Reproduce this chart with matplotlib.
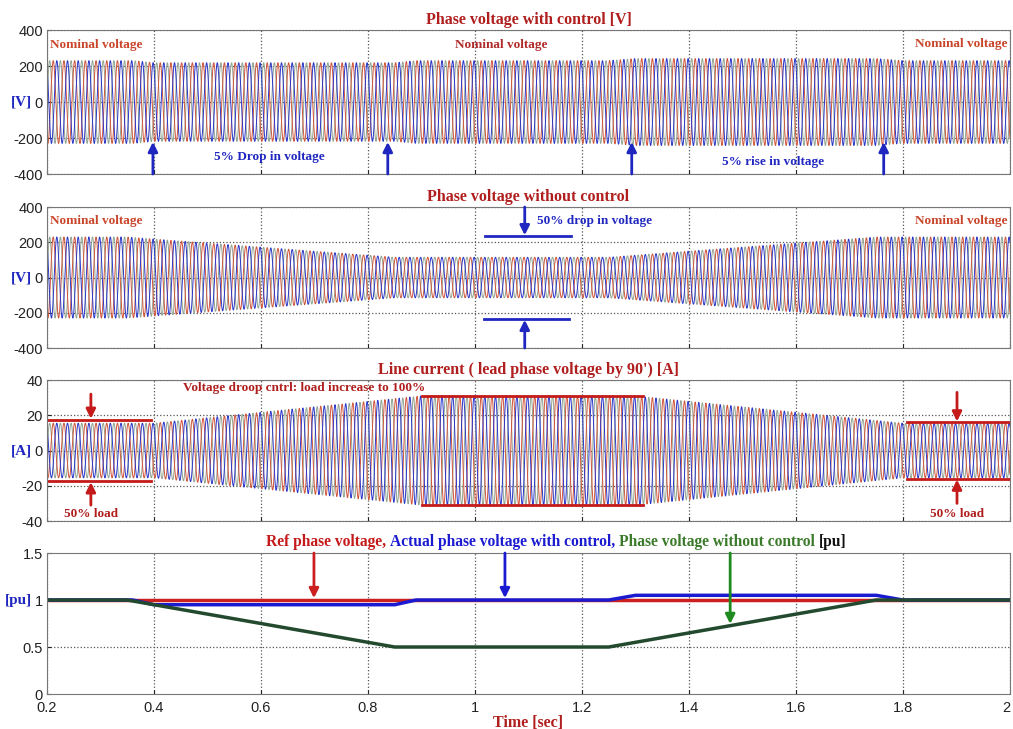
import numpy as np
import matplotlib.pyplot as plt

plt.rcParams['axes.unicode_minus'] = False
plt.rcParams['font.family'] = ['Liberation Sans', 'DejaVu Sans']

# envelope breakpoints (per-unit)
t_ref = [0.2, 2.0]
pu_ref = [1.0, 1.0]
t_ctrl = [0.2, 0.36, 0.40, 0.85, 0.89, 1.25, 1.30, 1.75, 1.80, 2.0]
pu_ctrl = [1.0, 1.0, 0.95, 0.95, 1.0, 1.0, 1.05, 1.05, 1.0, 1.0]
t_noctrl = [0.2, 0.35, 0.85, 1.25, 1.75, 2.0]
pu_noctrl = [1.0, 1.0, 0.5, 0.5, 1.0, 1.0]
# line current envelope [A]
t_cur = [0.2, 0.4, 0.9, 1.3, 1.8, 2.0]
amp_cur = [15.5, 15.5, 31.0, 31.0, 15.5, 15.5]

v_peak = 230.0
freq = 50.0
xticks = [0.2, 0.4, 0.6, 0.8, 1.0, 1.2, 1.4, 1.6, 1.8, 2.0]
xticklabels = ['0.2', '0.4', '0.6', '0.8', '1', '1.2', '1.4', '1.6', '1.8', '2']

phase_colors = ['#93a593', '#d0553a', '#2b37c8']
serif = 'Liberation Serif'
dark_red = '#b01e1e'
blue = '#2027c0'

t = np.linspace(0.2, 2.0, 18001)


def three_phase(ax, env):
    for k, c in enumerate(phase_colors):
        ax.plot(t, env * np.sin(2 * np.pi * freq * t - 2 * np.pi * k / 3), color=c, lw=0.7)


def style(ax, ylim, yticks, ylab, ylab_y=0.5, bottom=False):
    ax.set_xlim(0.2, 2.0)
    ax.set_ylim(*ylim)
    ax.set_xticks(xticks)
    ax.set_yticks(yticks)
    ax.grid(True, linestyle=':', color='#555555', lw=0.9)
    ax.tick_params(direction='in', length=3, labelsize=10.5, colors='#222222')
    ax.tick_params(axis='x', pad=5)
    ax.tick_params(axis='y', pad=3)
    for s in ax.spines.values():
        s.set_color('#777777')
    if bottom:
        ax.set_xticklabels(xticklabels)
        ax.get_xticklabels()[-1].set_ha('right')
    else:
        ax.set_xticklabels([])
    ax.text(-0.016, ylab_y, ylab, transform=ax.transAxes, ha='right', va='center',
            color=blue, fontsize=11, fontweight='bold', family=serif)


def arrow(ax, x, y_tail, y_tip, color):
    ax.annotate('', xy=(x, y_tip), xytext=(x, y_tail),
                arrowprops=dict(arrowstyle='-|>', color=color, lw=2, mutation_scale=14,
                                shrinkA=0, shrinkB=0))


def note(ax, x, y, s, color, ha='left'):
    ax.text(x, y, s, color=color, fontsize=9.5, fontweight='bold', family=serif,
            ha=ha, va='center')


fig = plt.figure(figsize=(10.13, 7.29), dpi=100)
L, W = 0.0464, 0.9506
ax1 = fig.add_axes([L, 0.7613, W, 0.1975])
ax2 = fig.add_axes([L, 0.5226, W, 0.1934])
ax3 = fig.add_axes([L, 0.2853, W, 0.1934])
ax4 = fig.add_axes([L, 0.0480, W, 0.1934])

# Panel 1 - with control
three_phase(ax1, v_peak * np.interp(t, t_ctrl, pu_ctrl))
style(ax1, (-400, 400), [-400, -200, 0, 200, 400], '[V]')
ax1.set_title('Phase voltage with control [V]', color=dark_red, fontsize=11.5,
              fontweight='bold', family=serif, pad=4)
note(ax1, 0.205, 318, 'Nominal voltage', '#c8452a')
note(ax1, 1.05, 318, 'Nominal voltage', '#b02a2a', ha='center')
note(ax1, 1.995, 325, 'Nominal voltage', '#c8452a', ha='right')
note(ax1, 0.512, -305, '5% Drop in voltage', blue)
note(ax1, 1.462, -335, '5% rise in voltage', blue)
for x in [0.398, 0.837, 1.293, 1.764]:
    arrow(ax1, x, -400, -222, blue)

# Panel 2 - without control
three_phase(ax2, v_peak * np.interp(t, t_noctrl, pu_noctrl))
style(ax2, (-400, 400), [-400, -200, 0, 200, 400], '[V]')
ax2.set_title('Phase voltage without control', color=dark_red, fontsize=11.5,
              fontweight='bold', family=serif, pad=4)
note(ax2, 0.205, 318, 'Nominal voltage', '#c8452a')
note(ax2, 1.995, 318, 'Nominal voltage', '#c8452a', ha='right')
note(ax2, 1.115, 318, '50% drop in voltage', blue)
ax2.plot([1.019, 1.179], [235, 235], color=blue, lw=2)
ax2.plot([1.016, 1.176], [-235, -235], color=blue, lw=2)
arrow(ax2, 1.093, 400, 240, blue)
arrow(ax2, 1.093, -400, -240, blue)

# Panel 3 - line current
three_phase(ax3, np.interp(t, t_cur, amp_cur))
style(ax3, (-40, 40), [-40, -20, 0, 20, 40], '[A]')
ax3.set_title("Line current ( lead phase voltage by 90') [A]", color=dark_red,
              fontsize=11.5, fontweight='bold', family=serif, pad=4)
red_line = '#c41a1a'
for x0, x1, y in [(0.2, 0.394, 17.5), (0.901, 1.314, 31.0), (1.807, 2.0, 16.0)]:
    ax3.plot([x0, x1], [y, y], color=red_line, lw=2)
    ax3.plot([x0, x1], [-y, -y], color=red_line, lw=2)
arrow(ax3, 0.282, 32, 18, red_line)
arrow(ax3, 0.282, -31, -18, red_line)
arrow(ax3, 1.901, 33, 16.5, red_line)
arrow(ax3, 1.901, -30, -16.5, red_line)
note(ax3, 0.454, 35.5, 'Voltage droop cntrl: load increase to 100%', dark_red)
note(ax3, 0.282, -36, '50% load', dark_red, ha='center')
note(ax3, 1.901, -36, '50% load', dark_red, ha='center')

# Panel 4 - per-unit envelopes
ax4.plot(t_ref, pu_ref, color='#cc2020', lw=2.5)
ax4.plot(t_ctrl, pu_ctrl, color='#1a1ad0', lw=2.5)
ax4.plot(t_noctrl, pu_noctrl, color='#234a2e', lw=2.5)
style(ax4, (0, 1.5), [0, 0.5, 1, 1.5], '[pu]', ylab_y=1 / 1.5, bottom=True)
ax4.set_yticklabels(['0', '0.5', '1', '1.5'])
ax4.grid(False)
ax4.grid(True, axis='x', linestyle=':', color='#555555', lw=0.9)
for y in [0.5, 1.0]:
    ax4.axhline(y, linestyle=':', color='#555555', lw=0.9, zorder=0)
arrow(ax4, 0.699, 1.5, 1.02, '#cc2020')
arrow(ax4, 1.056, 1.5, 1.02, '#1a1ad0')
arrow(ax4, 1.477, 1.5, 0.745, '#1f8a1f')
ax4.set_xlabel('Time [sec]', color=dark_red, fontsize=11.5, fontweight='bold',
               family=serif, labelpad=0)

# multi-coloured title of the bottom panel
pieces = [('Ref phase voltage, ', '#c41a1a'),
          ('Actual phase voltage with control, ', '#1a1ad0'),
          ('Phase voltage without control ', '#3a7a2a'),
          ('[pu]', '#111111')]
fig.canvas.draw()
r = fig.canvas.get_renderer()
objs = []
for s, c in pieces:
    objs.append(fig.text(0, 0, s, color=c, fontsize=11.2, fontweight='bold',
                         family=serif, va='baseline'))
widths = [o.get_window_extent(r).width for o in objs]
total = sum(widths)
fw = fig.bbox.width
x = 556 - total / 2
y_base = 1 - 546 / 729
for o, w in zip(objs, widths):
    o.set_position((x / fw, y_base))
    x += w

fig.savefig('out.png', dpi=100)
